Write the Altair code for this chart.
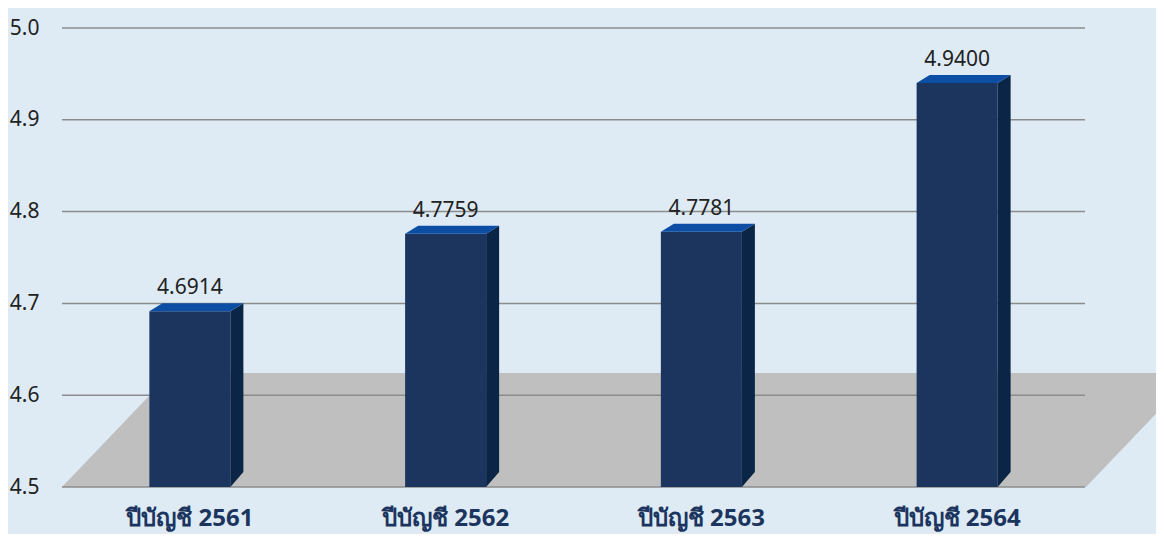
import altair as alt
import pandas as pd

# ---- data ----
categories = ["ปีบัญชี 2561", "ปีบัญชี 2562", "ปีบัญชี 2563", "ปีบัญชี 2564"]
values = [4.6914, 4.7759, 4.7781, 4.9400]
labels = ["4.6914", "4.7759", "4.7781", "4.9400"]
y_ticks = [4.5, 4.6, 4.7, 4.8, 4.9, 5.0]
y_min, y_max = 4.5, 5.0

# ---- geometry (in band / value units) ----
BAR_HALF = 0.1584
DEPTH_X = 0.0508
DEPTH_Y_TOP = 0.0087
DEPTH_Y_BOT = 0.0163
FLOOR_DEPTH_Y = 0.1242
FLOOR_SHIFT_X = 0.426
N = len(categories)
BAND_PX = 255.75

W, H = 1094, 459
X_DOMAIN_MAX = W / BAND_PX
FONT = "Noto Sans"
NAVY = "#1c355e"
SIDE = "#0b2546"
TOP = "#0c4ea3"
BG = "#deebf5"

xs = alt.Scale(domain=[0, X_DOMAIN_MAX], nice=False, zero=False)
ys = alt.Scale(domain=[y_min, y_max], nice=False, zero=False)

# floor
floor_df = pd.DataFrame({
    "y": [y_min, y_min + FLOOR_DEPTH_Y],
    "x": [0, FLOOR_SHIFT_X],
    "x2": [N + 0.004, N + 0.004 + FLOOR_SHIFT_X],
})
floor = alt.Chart(floor_df).mark_area(orient="horizontal", clip=True, color="#bfbfbf").encode(
    y=alt.Y("y:Q", scale=ys, axis=alt.Axis(values=y_ticks, format=".1f", grid=False, domain=False,
                                            ticks=False, labelPadding=23, labelFontSize=21,
                                            labelColor="#222222", labelFont=FONT, title=None)),
    x=alt.X("x:Q", scale=xs, axis=None),
    x2="x2:Q",
)

# gridlines
grid_df = pd.DataFrame({"y": y_ticks, "x": [0] * len(y_ticks), "x2": [N] * len(y_ticks)})
grid = alt.Chart(grid_df).mark_rule(color="#8c8c8c", strokeWidth=1.5).encode(
    y=alt.Y("y:Q", scale=ys), x=alt.X("x:Q", scale=xs, axis=None), x2="x2:Q"
)

# bar fronts
bars_df = pd.DataFrame({
    "cat": categories,
    "v": values,
    "lab": labels,
    "c": [i + 0.5 for i in range(N)],
})
bars_df["L"] = bars_df["c"] - BAR_HALF
bars_df["R"] = bars_df["c"] + BAR_HALF
bars_df["base"] = y_min

front = alt.Chart(bars_df).mark_rect(color=NAVY).encode(
    x=alt.X("L:Q", scale=xs, axis=None), x2="R:Q",
    y=alt.Y("base:Q", scale=ys), y2="v:Q",
)

# side and top faces
side_rows = []
top_rows = []
for i, (cat, v) in enumerate(zip(categories, values)):
    c = i + 0.5
    side_rows.append({"cat": cat, "x": c + BAR_HALF, "y": v, "y2": y_min})
    side_rows.append({"cat": cat, "x": c + BAR_HALF + DEPTH_X, "y": v + DEPTH_Y_TOP, "y2": y_min + DEPTH_Y_BOT})
    top_rows.append({"cat": cat, "y": v, "x": c - BAR_HALF, "x2": c + BAR_HALF})
    top_rows.append({"cat": cat, "y": v + DEPTH_Y_TOP, "x": c - BAR_HALF + DEPTH_X, "x2": c + BAR_HALF + DEPTH_X})
side_df = pd.DataFrame(side_rows)
top_df = pd.DataFrame(top_rows)

side = alt.Chart(side_df).mark_area(color=SIDE).encode(
    x=alt.X("x:Q", scale=xs, axis=None),
    y=alt.Y("y:Q", scale=ys), y2="y2:Q",
    detail="cat:N",
)
top = alt.Chart(top_df).mark_area(orient="horizontal", color=TOP).encode(
    y=alt.Y("y:Q", scale=ys),
    x=alt.X("x:Q", scale=xs, axis=None), x2="x2:Q",
    detail="cat:N",
)

# value labels
val_text = alt.Chart(bars_df).mark_text(font=FONT, fontSize=21, color="#222222",
                                        baseline="alphabetic", dy=-17).encode(
    x=alt.X("c:Q", scale=xs, axis=None), y=alt.Y("v:Q", scale=ys), text="lab:N"
)

# category labels
cat_text = alt.Chart(bars_df).mark_text(font=FONT, fontSize=24, fontWeight="bold", color=NAVY,
                                        baseline="alphabetic", dy=39).encode(
    x=alt.X("c:Q", scale=xs, axis=None), y=alt.Y("base:Q", scale=ys), text="cat:N"
)

chart = alt.layer(floor, grid, front, side, top, val_text, cat_text).properties(
    width=W, height=H,
    autosize=alt.AutoSizeParams(type="none"),
    padding={"left": 54, "top": 20, "right": 0, "bottom": 47},
    background=BG,
).configure_view(stroke=None)

chart.save("out.html", embed_options={"renderer": "svg", "actions": False})
